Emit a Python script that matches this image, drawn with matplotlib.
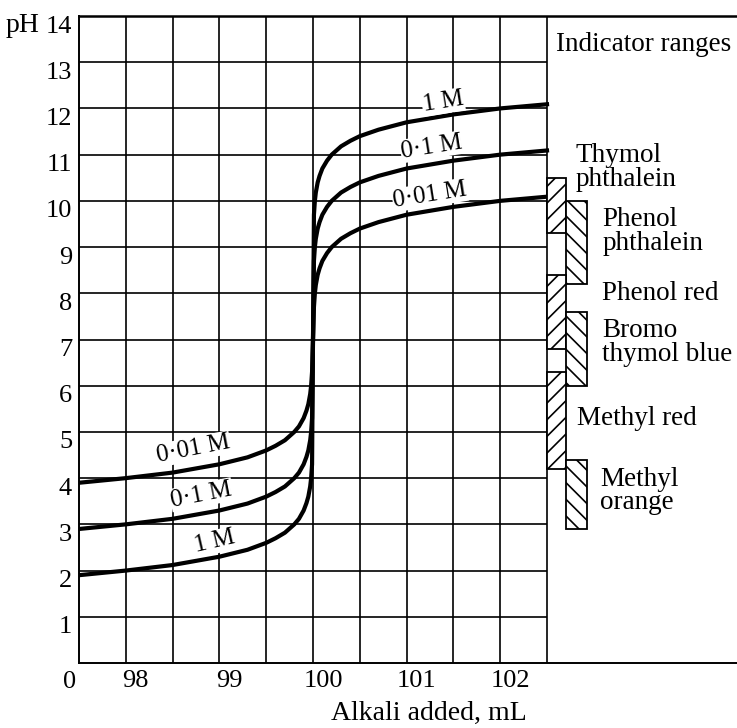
import numpy as np
import matplotlib
matplotlib.use('Agg')
import matplotlib.pyplot as plt
from matplotlib.transforms import ScaledTranslation

plt.rcParams['font.family'] = ['Liberation Serif', 'DejaVu Serif']
plt.rcParams['hatch.linewidth'] = 1.2

# alkali added (mL) and pH
alkali = [97.5, 98, 98.5, 99, 99.3, 99.5, 99.6, 99.7, 99.8, 99.85, 99.9, 99.93, 99.95,
          99.97, 99.98, 99.99, 100, 100.01, 100.02, 100.03, 100.05, 100.07, 100.1,
          100.15, 100.2, 100.3, 100.4, 100.5, 100.7, 101, 101.5, 102, 102.5]
ph_1M = [1.90, 2.00, 2.12, 2.30, 2.45, 2.60, 2.70, 2.82, 3.00, 3.12, 3.30, 3.46, 3.60,
         3.82, 4.00, 4.30, 7.00, 9.70, 10.00, 10.18, 10.40, 10.54, 10.70,
         10.87, 11.00, 11.18, 11.30, 11.40, 11.54, 11.70, 11.87, 12.00, 12.09]
ph_01M = [2.90, 3.00, 3.12, 3.30, 3.45, 3.60, 3.70, 3.82, 4.00, 4.12, 4.30, 4.46, 4.60,
          4.82, 5.00, 5.30, 7.00, 8.70, 9.00, 9.18, 9.40, 9.54, 9.70,
          9.87, 10.00, 10.18, 10.30, 10.40, 10.54, 10.70, 10.87, 11.00, 11.09]
ph_001M = [3.90, 4.00, 4.12, 4.30, 4.45, 4.60, 4.70, 4.82, 5.00, 5.12, 5.30, 5.46, 5.60,
           5.82, 6.00, 6.30, 7.00, 7.70, 8.00, 8.18, 8.40, 8.54, 8.70,
           8.87, 9.00, 9.18, 9.30, 9.40, 9.54, 9.70, 9.87, 10.00, 10.09]

# indicator colour-change ranges
indicators = ['Thymol\nphthalein', 'Phenol\nphthalein', 'Phenol red',
              'Bromo\nthymol blue', 'Methyl red', 'Methyl\norange']
ind_low = [9.3, 8.2, 6.8, 6.0, 4.2, 2.9]
ind_high = [10.5, 10.0, 8.4, 7.6, 6.3, 4.4]
ind_col = [0, 1, 0, 1, 0, 1]

x_ticks = [98, 99, 100, 101, 102]
y_ticks = list(range(1, 15))

fig = plt.figure(figsize=(7.37, 7.28), dpi=100)
ax = fig.add_axes([79 / 737, 65 / 728, 1 - 79 / 737, (663 - 16) / 728])
ax.set_xlim(97.5, 97.5 + (737 - 79) / 93.6)
ax.set_ylim(0, 14)

# grid only over the plotting area
ax.vlines(np.arange(98, 102.51, 0.5), 0, 14, color='black', lw=1.2)
ax.hlines(y_ticks[:-1], 97.5, 102.5, color='black', lw=1.2)

for s in ['left', 'bottom']:
    ax.spines[s].set_linewidth(1.4)
ax.spines['top'].set_linewidth(1.8)
ax.spines['right'].set_visible(False)

# titration curves
for ph in [ph_1M, ph_01M, ph_001M]:
    ax.plot(alkali, ph, color='black', lw=3.0, solid_joinstyle='round', zorder=3)

lbl = dict(fontsize=18, ha='center', va='center', zorder=4,
           bbox=dict(fc='white', ec='none', pad=0.5))
ax.text(101.39, 12.14, '1 M', rotation=9, **lbl)
ax.text(101.27, 11.17, '0·1 M', rotation=9, **lbl)
ax.text(101.25, 10.13, '0·01 M', rotation=9, **lbl)
ax.text(98.72, 4.63, '0·01 M', rotation=11, **lbl)
ax.text(98.81, 3.64, '0·1 M', rotation=11, **lbl)
ax.text(98.95, 2.62, '1 M', rotation=13, **lbl)

# indicator bars
col_x = [102.5, 102.70]
col_w = [0.20, 0.23]
hatches = ['//', '\\\\']
for name, lo, hi, c in zip(indicators, ind_low, ind_high, ind_col):
    ax.bar(col_x[c], hi - lo, bottom=lo, width=col_w[c], align='edge',
           facecolor='white', edgecolor='black', lw=1.3, hatch=hatches[c], zorder=3)

lab_x = [102.80, 103.09, 103.09, 103.09, 102.82, 103.07]
lab_y = [10.72, 9.34, 8.0, 6.94, 5.3, 3.72]
for name, lx, ly in zip(indicators, lab_x, lab_y):
    ax.text(lx, ly, name, fontsize=19.5, ha='left', va='center', linespacing=0.92)
ax.text(102.60, 13.38, 'Indicator ranges', fontsize=19.5, ha='left', va='center')

# ticks
ax.set_xticks(x_ticks)
ax.set_xticklabels([str(t) for t in x_ticks], fontsize=19)
ax.set_yticks(y_ticks)
ax.set_yticklabels([str(t) for t in y_ticks], fontsize=19)
ax.tick_params(length=0, pad=5)
for t in ax.get_xticklabels():
    t.set_transform(t.get_transform() + ScaledTranslation(0.10, 0, fig.dpi_scale_trans))
for t in ax.get_yticklabels():
    t.set_transform(t.get_transform() + ScaledTranslation(0, -0.08, fig.dpi_scale_trans))

fig.text(70 / 737, 1 - 682 / 728, '0', fontsize=19, ha='center', va='center')
fig.text(6 / 737, 1 - 25 / 728, 'pH', fontsize=20, ha='left', va='center')
fig.text(429 / 737, 1 - 713 / 728, 'Alkali added, mL', fontsize=20, ha='center', va='center')

fig.savefig('out.png', dpi=100)
